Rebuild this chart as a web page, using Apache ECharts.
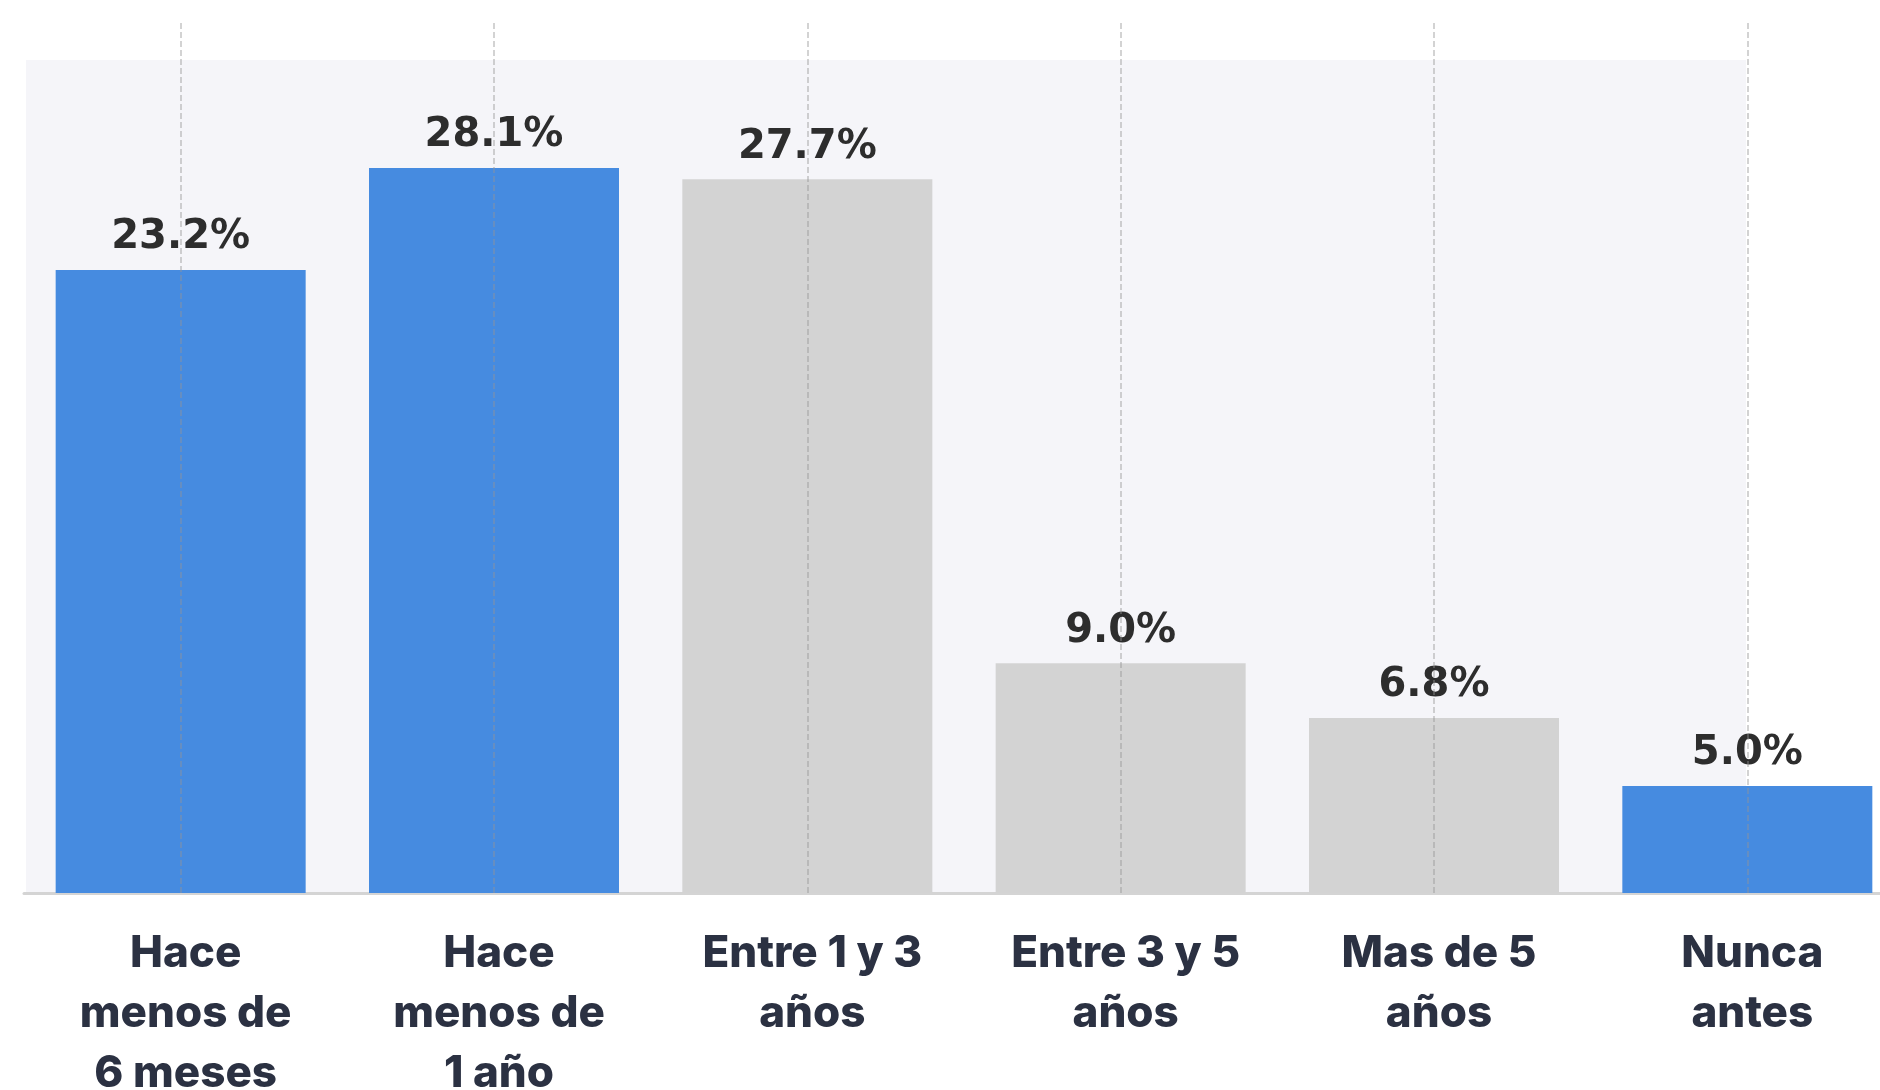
<!DOCTYPE html>
<html>
<head>
<meta charset="utf-8">
<style>
  html, body { margin: 0; padding: 0; background: #ffffff; }
  #chart { width: 1880px; height: 1090px; }
</style>
<script src="https://cdn.jsdelivr.net/npm/echarts@6/dist/echarts.min.js"></script>
</head>
<body>
<div id="chart"></div>
<script>
// Categories (x axis tick labels)
const categories = [
  'Hace\nmenos de\n6 meses',
  'Hace\nmenos de\n1 año',
  'Entre 1 y 3\naños',
  'Entre 3 y 5\naños',
  'Mas de 5\naños',
  'Nunca\nantes'
];
// Percentages printed above the bars
const percentLabels = [23.2, 28.1, 27.7, 9.0, 6.8, 5.0];
// Bar heights as drawn in the picture (same percent scale)
const barHeights = [24.15, 28.1, 27.67, 8.91, 6.78, 4.15];
// Bars drawn in the highlight colour
const highlighted = [0, 1, 5];

const BLUE = '#468be0';
const GRAY = '#d3d3d3';

const chart = echarts.init(document.getElementById('chart'), null, { renderer: 'canvas' });

chart.setOption({
  animation: false,
  backgroundColor: '#ffffff',
  grid: [
    { left: 26, top: 60, width: 1720, height: 833, show: true, backgroundColor: '#f5f5f9', borderWidth: 0, outerBoundsMode: 'none', containLabel: false },
    { left: 24, top: 20, width: 1880, height: 873, show: false, outerBoundsMode: 'none', containLabel: false }
  ],
  xAxis: [
    { gridIndex: 0, type: 'value', show: false },
    {
      gridIndex: 1,
      type: 'category',
      data: categories,
      axisLine: { show: true, lineStyle: { color: '#d4d4d4', width: 3 } },
      axisTick: { show: true, alignWithLabel: true, inside: true, length: 7, lineStyle: { color: '#333333', width: 2 } },
      axisLabel: {
        show: true,
        interval: 0,
        margin: 31,
        fontFamily: 'Inter',
        fontWeight: 800,
        fontSize: 44,
        lineHeight: 60,
        color: '#2b3142',
        padding: [0, 0, 0, 10]
      },
      splitLine: { show: false }
    }
  ],
  yAxis: [
    { gridIndex: 0, type: 'value', show: false },
    { gridIndex: 1, type: 'value', min: 0, max: 33.84, show: false, splitLine: { show: false } }
  ],
  series: [
    {
      type: 'bar',
      xAxisIndex: 1,
      yAxisIndex: 1,
      data: barHeights,
      barWidth: 250,
      itemStyle: {
        color: function (p) { return highlighted.indexOf(p.dataIndex) >= 0 ? BLUE : GRAY; }
      },
      label: {
        show: true,
        position: 'top',
        distance: 12,
        fontFamily: 'DejaVu Sans',
        fontWeight: 'bold',
        fontSize: 40,
        color: '#2d2d2d',
        formatter: function (p) { return percentLabels[p.dataIndex].toFixed(1) + '%'; }
      },
      markLine: {
        silent: true,
        symbol: ['none', 'none'],
        label: { show: false },
        lineStyle: { type: 'dashed', color: 'rgba(150,150,150,0.55)', width: 1.5 },
        data: categories.map(function (c) { return { xAxis: c }; })
      }
    }
  ]
});
</script>
</body>
</html>
